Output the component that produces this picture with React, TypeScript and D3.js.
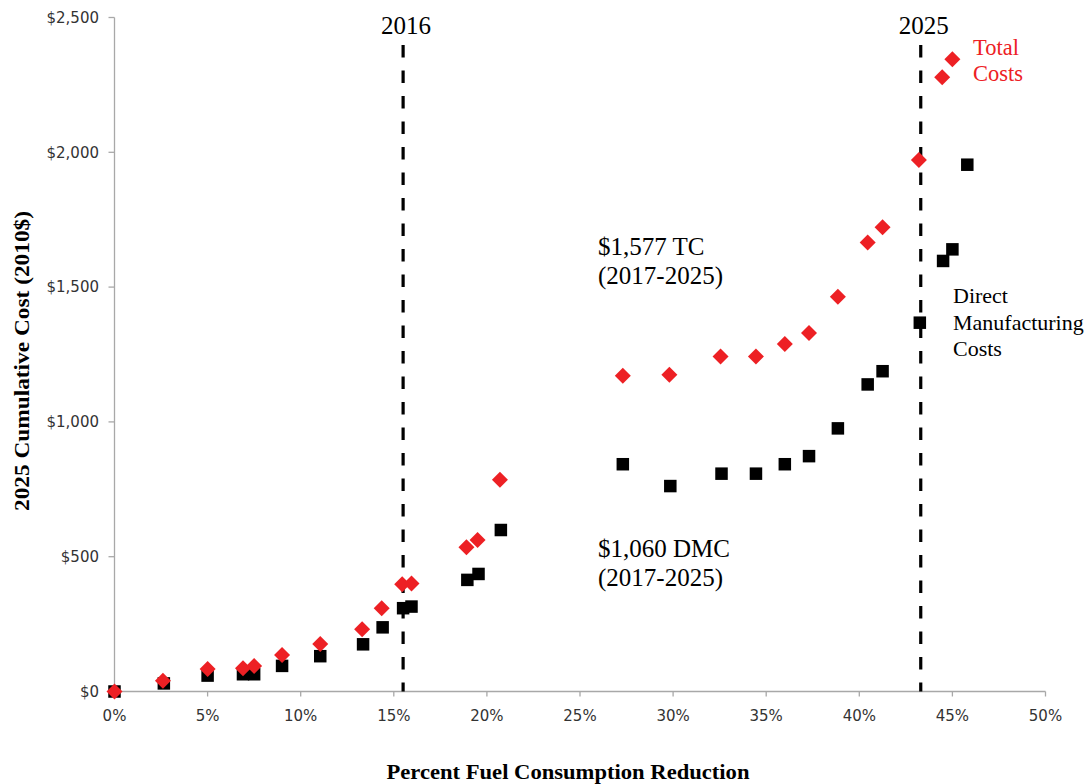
import React from "react";
import * as d3 from "d3";

const reductionTC = [0, 2.6, 5.0, 6.9, 7.5, 9.0, 11.05, 13.3, 14.35, 15.45, 15.95, 18.9, 19.5, 20.7, 27.3, 29.8, 32.55, 34.45, 36.0, 37.3, 38.85, 40.45, 41.25, 43.2, 44.45, 45.0];
const totalCosts = [0, 40, 83, 86, 95, 135, 176, 231, 309, 398, 401, 535, 562, 785, 1171, 1175, 1243, 1243, 1289, 1330, 1464, 1665, 1722, 1971, 2278, 2345];

const reductionDMC = [0, 2.65, 5.0, 6.9, 7.5, 9.0, 11.05, 13.35, 14.4, 15.5, 15.95, 18.95, 19.55, 20.75, 27.3, 29.85, 32.6, 34.45, 36.0, 37.3, 38.85, 40.45, 41.25, 43.25, 44.5, 45.0, 45.8];
const directMfgCosts = [0, 30, 59, 64, 64, 95, 131, 175, 238, 309, 315, 414, 436, 599, 843, 762, 808, 808, 843, 873, 976, 1139, 1188, 1368, 1597, 1640, 1954];

const xTicks = [0, 5, 10, 15, 20, 25, 30, 35, 40, 45, 50];
const yTicks = [0, 500, 1000, 1500, 2000, 2500];

const milestones = [
  { year: "2016", pct: 15.5 },
  { year: "2025", pct: 43.3 },
];

const RED = "#ED2024";

export default function App() {
  const x = d3.scaleLinear().domain([0, 50]).range([114.5, 1045.5]);
  const y = d3.scaleLinear().domain([0, 2500]).range([691.5, 17.5]);
  const fmt = d3.format(",");
  const axisColor = "#a8a8a8";
  const sq = 12.5;
  const dh = 8;
  const serif = "'Liberation Serif', 'Times New Roman', serif";
  const sans = "'DejaVu Sans', Verdana, sans-serif";

  return (
    <svg width={1086} height={784} style={{ position: "absolute", left: 0, top: 0, background: "#fff" }}>
      {/* axes */}
      <line x1={x(0)} x2={x(0)} y1={y(2500)} y2={y(0)} stroke={axisColor} strokeWidth={1.3} />
      <line x1={x(0)} x2={x(50)} y1={y(0)} y2={y(0)} stroke={axisColor} strokeWidth={1.3} />
      {yTicks.map((t) => (
        <g key={"y" + t}>
          <line x1={x(0) - 6} x2={x(0)} y1={y(t)} y2={y(t)} stroke={axisColor} strokeWidth={1.3} />
          <text x={99} y={y(t)} dy="0.35em" textAnchor="end" fontFamily={sans} fontSize={15} fill="#333">
            {"$" + fmt(t)}
          </text>
        </g>
      ))}
      {xTicks.map((t) => (
        <g key={"x" + t}>
          <line x1={x(t)} x2={x(t)} y1={y(0)} y2={y(0) + 5} stroke={axisColor} strokeWidth={1.3} />
          <text x={x(t)} y={721} textAnchor="middle" fontFamily={sans} fontSize={15} fill="#333">
            {t + "%"}
          </text>
        </g>
      ))}

      {/* milestone lines */}
      {milestones.map((m) => (
        <g key={m.year}>
          <line x1={x(m.pct)} x2={x(m.pct)} y1={45} y2={y(0)} stroke="#000" strokeWidth={3.2} strokeDasharray="12.5 13" />
          <text x={x(m.pct) + 3} y={34} textAnchor="middle" fontFamily={serif} fontSize={25} fill="#000">
            {m.year}
          </text>
        </g>
      ))}

      {/* DMC squares */}
      {reductionDMC.map((r, i) => (
        <rect key={"s" + i} x={x(r) - sq / 2} y={y(directMfgCosts[i]) - sq / 2} width={sq} height={sq} fill="#000" />
      ))}
      {/* TC diamonds */}
      {reductionTC.map((r, i) => {
        const cx = x(r);
        const cy = y(totalCosts[i]);
        return (
          <path key={"d" + i} d={`M${cx},${cy - dh}L${cx + dh},${cy}L${cx},${cy + dh}L${cx - dh},${cy}Z`} fill={RED} />
        );
      })}

      {/* annotations */}
      <text fontFamily={serif} fontSize={25} fill="#000">
        <tspan x={598} y={255}>$1,577 TC</tspan>
        <tspan x={598} y={284}>(2017-2025)</tspan>
      </text>
      <text fontFamily={serif} fontSize={25} fill="#000">
        <tspan x={598} y={557}>$1,060 DMC</tspan>
        <tspan x={598} y={586}>(2017-2025)</tspan>
      </text>
      <text fontFamily={serif} fontSize={22.5} fill={RED}>
        <tspan x={973} y={55}>Total</tspan>
        <tspan x={973} y={81}>Costs</tspan>
      </text>
      <text fontFamily={serif} fontSize={22} fill="#000">
        <tspan x={953} y={303}>Direct</tspan>
        <tspan x={953} y={330}>Manufacturing</tspan>
        <tspan x={953} y={356}>Costs</tspan>
      </text>

      {/* axis titles */}
      <text
        transform="translate(29,361) rotate(-90)"
        textAnchor="middle"
        fontFamily={serif}
        fontWeight="bold"
        fontSize={22}
        textLength={300}
        lengthAdjust="spacingAndGlyphs"
        fill="#000"
      >
        2025 Cumulative Cost (2010$)
      </text>
      <text
        x={568}
        y={779}
        textAnchor="middle"
        fontFamily={serif}
        fontWeight="bold"
        fontSize={21}
        textLength={363}
        lengthAdjust="spacingAndGlyphs"
        fill="#000"
      >
        Percent Fuel Consumption Reduction
      </text>
    </svg>
  );
}
